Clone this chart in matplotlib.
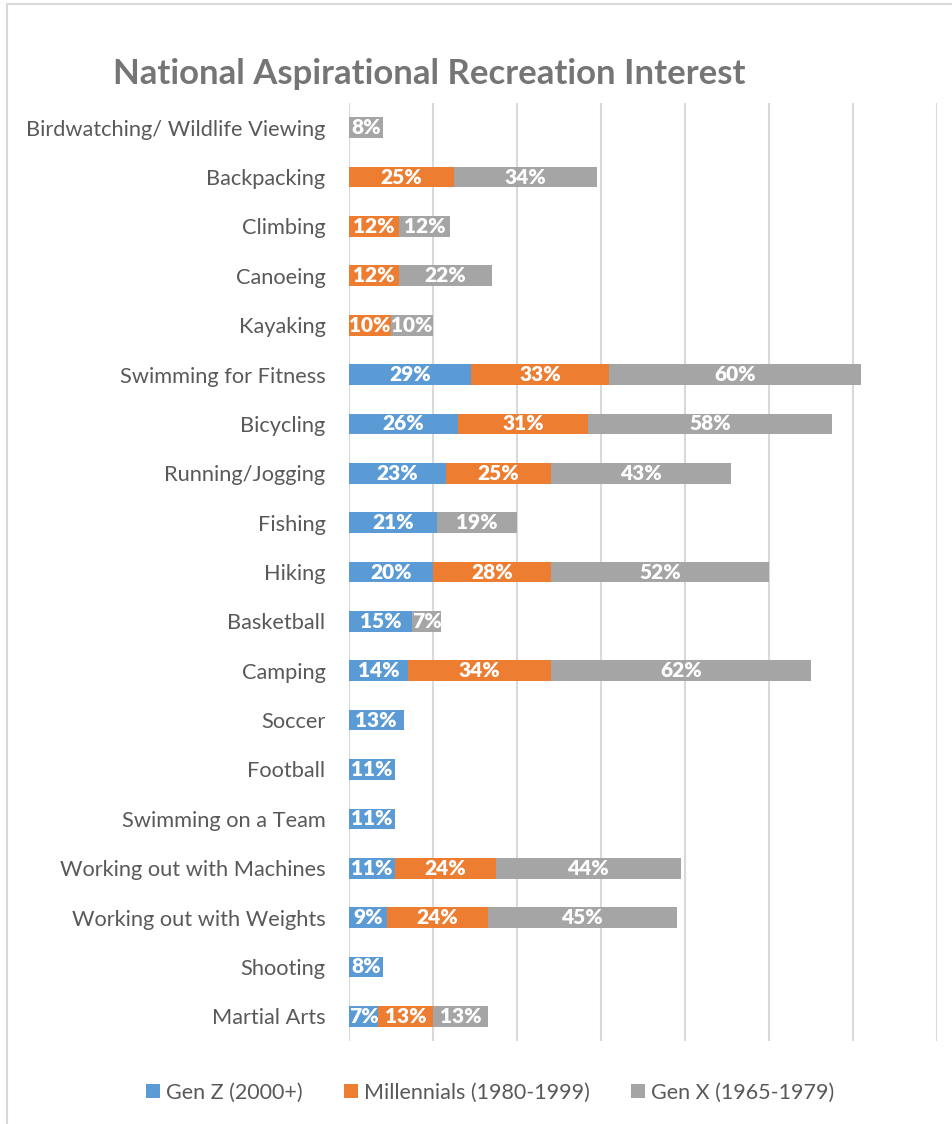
import numpy as np
from matplotlib import pyplot as plt
from matplotlib.patches import Rectangle

plt.rcParams['font.family'] = ['Lato', 'DejaVu Sans']

activities = ['Birdwatching/ Wildlife Viewing', 'Backpacking', 'Climbing', 'Canoeing',
              'Kayaking', 'Swimming for Fitness', 'Bicycling', 'Running/Jogging',
              'Fishing', 'Hiking', 'Basketball', 'Camping', 'Soccer', 'Football',
              'Swimming on a Team', 'Working out with Machines',
              'Working out with Weights', 'Shooting', 'Martial Arts']
gen_z = [0, 0, 0, 0, 0, 29, 26, 23, 21, 20, 15, 14, 13, 11, 11, 11, 9, 8, 7]
millennials = [0, 25, 12, 12, 10, 33, 31, 25, 0, 28, 0, 34, 0, 0, 0, 24, 24, 0, 13]
gen_x = [8, 34, 12, 22, 10, 60, 58, 43, 19, 52, 7, 62, 0, 0, 0, 44, 45, 0, 13]

series = [('Gen Z (2000+)', gen_z, '#5B9BD5'),
          ('Millennials (1980-1999)', millennials, '#ED7D31'),
          ('Gen X (1965-1979)', gen_x, '#A5A5A5')]

fig = plt.figure(figsize=(9.52, 11.24), dpi=100)
ax = fig.add_axes([0.3666, 0.0738, 0.6177, 0.8346])

y = np.arange(len(activities))
left = np.zeros(len(activities))
handles = []
for name, vals, color in series:
    vals = np.array(vals, dtype=float)
    bars = ax.barh(y, vals, left=left, height=0.42, color=color, label=name, zorder=3)
    handles.append(bars)
    for yi, (l, v) in enumerate(zip(left, vals)):
        if v > 0:
            ax.text(l + v / 2, yi, f'{int(v)}%', ha='center', va='center',
                    color='white', fontsize=15, fontweight='heavy', zorder=4)
    left += vals

ax.set_xlim(0, 140)
ax.set_ylim(len(activities) - 0.5, -0.5)
ax.set_xticks(np.arange(0, 141, 20))
ax.set_xticklabels([])
ax.grid(axis='x', color='#D9D9D9', linewidth=1.5, zorder=0)
ax.tick_params(length=0)
for s in ax.spines.values():
    s.set_visible(False)
ax.set_yticks(y)
ax.set_yticklabels(activities, fontsize=15.7, color='#595959')
ax.tick_params(axis='y', pad=17)

fig.text(0.451, 0.934, 'National Aspirational Recreation Interest', ha='center',
         va='center', fontsize=25, fontweight='bold', color='#757575')

fig.legend(handles=handles, loc='center', bbox_to_anchor=(0.515, 0.028), ncol=3,
           frameon=False, fontsize=15.5, handlelength=0.65, handleheight=0.65,
           handletextpad=0.3, columnspacing=1.9, labelcolor='#595959')

# chart frame edges
fig.add_artist(Rectangle((0.0075, -0.01), 1.1, 1.006, transform=fig.transFigure,
                         fill=False, edgecolor='#D9D9D9', linewidth=1.5))

fig.savefig('out.png', dpi=100)
